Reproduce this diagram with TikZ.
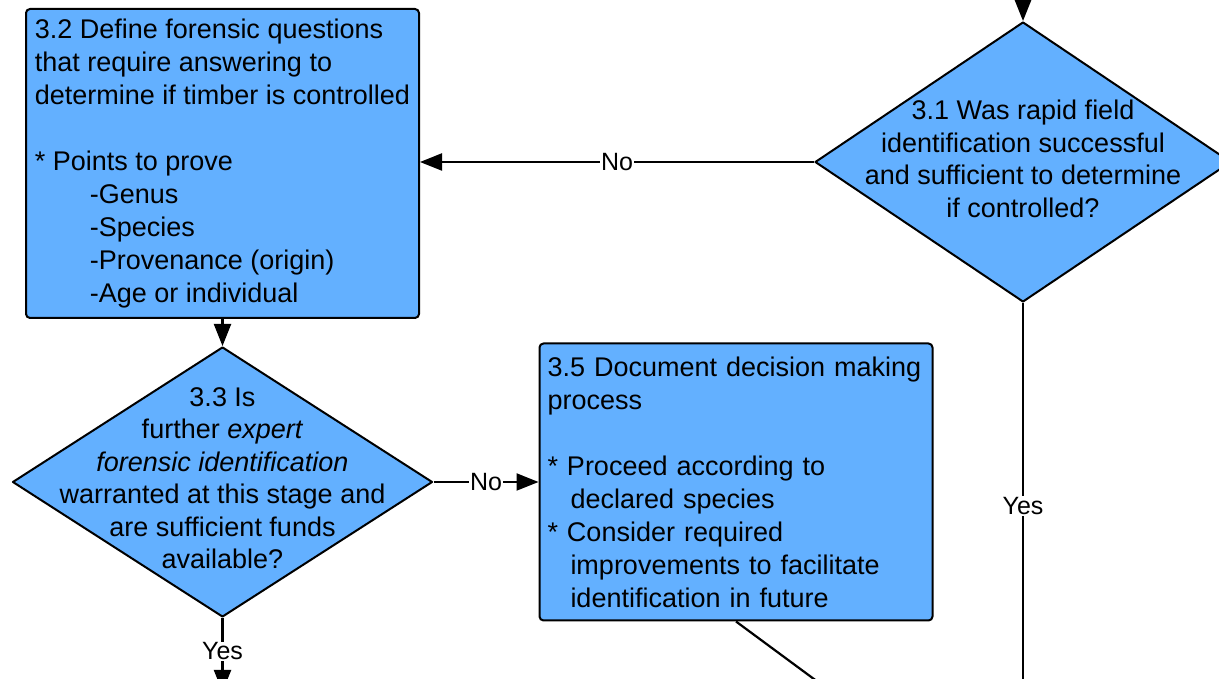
\documentclass[tikz,border=0pt]{standalone}
\usepackage{fontspec}
\setmainfont{Liberation Sans}
\usetikzlibrary{shapes.geometric, arrows.meta, positioning}
\definecolor{flowblue}{RGB}{99,176,255}

\begin{document}
\begin{tikzpicture}[
        x=1pt, y=1pt,
        box/.style={rectangle, draw, line width=2pt, rounded corners=4pt, fill=flowblue, minimum width=393pt, inner xsep=8pt, inner ysep=6pt, align=left, font=\fontsize{27}{33}\selectfont},
        decision/.style={diamond, draw, line width=2pt, line join=round, fill=flowblue, inner sep=0pt},
        qtext/.style={align=center, font=\fontsize{27}{32.5}\selectfont},
        arrow/.style={line width=2.2pt, -{Triangle[length=22pt,width=17pt]}},
        line/.style={line width=2.2pt},
        lbl/.style={fill=white, inner sep=1pt, font=\fontsize{25}{30}\selectfont}
    ]
        \clip (0,0) rectangle (1219,679);

        % Forensic questions
        \node[box, minimum height=309pt, anchor=north west] (define) at (25,671) {
            3.2 Define forensic questions\\
            that require answering to\\
            determine if timber is controlled\\[33pt]
            {*} Points to prove\\
            \hspace*{55pt}-Genus\\
            \hspace*{55pt}-Species\\
            \hspace*{55pt}-Provenance (origin)\\
            \hspace*{55pt}-Age or individual
        };

        % Decisions
        \node[decision, minimum width=416pt, minimum height=280pt] (rapid) at (1023,517) {};
        \node[qtext, yshift=3pt] (rapidtext) at (rapid) {
            3.1 Was rapid field\\
            identification successful\\
            and sufficient to determine\\
            if controlled?
        };
        \node[decision, minimum width=420pt, minimum height=270pt, below=27pt of define] (expert) {};
        \node[qtext, yshift=4pt] (experttext) at (expert) {
            3.3 Is\\
            further \textit{expert}\\
            \textit{forensic identification}\\
            warranted at this stage and\\
            are sufficient funds\\
            available?
        };

        % Document decision
        \node[box, text width=377pt, minimum height=277pt, right=105pt of expert] (document) {
            3.5 Document decision making\\
            process\\[33pt]
            {*} Proceed according to\\
            \hspace*{23pt}declared species\\
            {*} Consider required\\
            \hspace*{23pt}improvements to facilitate\\
            \hspace*{23pt}identification in future
        };

        % Free ends
        \coordinate (intorapid) at (1023,720);
        \coordinate (outrapid) at (1023,-30);
        \coordinate[below=74pt of expert.south] (outexpert);
        \coordinate (outdocument) at (841,-20);

        % Arrows
        \draw[arrow] (intorapid) -- (rapid.north);
        \draw[arrow] (rapid.west) -- node[lbl] {No} (rapid.west -| define.east);
        \draw[line] (rapid.south) -- node[lbl] {Yes} (outrapid);
        \draw[arrow] (define.south) -- (expert.north);
        \draw[arrow] (expert.east) -- node[lbl] {No} (document.west);
        \draw[arrow] (expert.south) -- node[lbl, pos=0.45] {Yes} (outexpert);
        \draw[line] (document.south) -- (outdocument);
    \end{tikzpicture}
\end{document}
